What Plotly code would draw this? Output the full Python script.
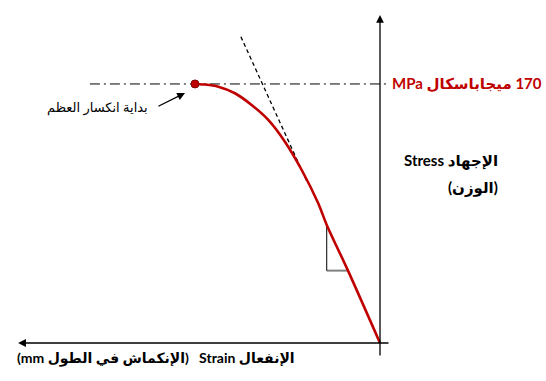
import plotly.graph_objects as go

# ---- data (strain in arbitrary mm units, stress in MPa) ----
CURVE_STRAIN = [0, 0.865, 1.44, 1.67, 2.12, 2.57, 3.02, 3.47, 3.92, 4.37, 4.73, 5.0]
CURVE_STRESS = [0, 47.5, 77.5, 91.7, 113.7, 132.1, 146.4, 156.2, 163.9, 168.2, 169.6, 170]
PEAK_STRAIN = [5.0]
PEAK_STRESS = [170]
TANGENT_STRAIN = [3.76, 1.97]
TANGENT_STRESS = [201, 105.7]
PROP_LIMIT_STRAIN = [7.84, -0.22]
PROP_LIMIT_STRESS = [170, 170]
TRI_V_STRAIN = [1.44, 1.44]
TRI_V_STRESS = [77.5, 47.5]
TRI_H_STRAIN = [1.44, 0.865]
TRI_H_STRESS = [47.5, 47.5]
AXIS_Y_STRESS = [-9.2, 215.3]   # vertical axis extent (tail, head)
AXIS_X_STRAIN = [-0.27, 9.78]   # horizontal axis extent (tail, head)
CALLOUT_TAIL = [6.03, 154.9]
CALLOUT_HEAD = [5.27, 164.1]

LABEL_LIMIT = "\u202b170 ميجاباسكال MPa\u202c"
LABEL_STRESS_1 = "\u202bالإجهاد Stress\u202c"
LABEL_STRESS_2 = "\u202b(الوزن)\u202c"
LABEL_STRAIN = "\u202bالإنفعال Strain\u00a0\u00a0 (الإنكماش في الطول mm)\u202c"
LABEL_CALLOUT = "بداية انكسار العظم"

RED = "#C00000"
FONT = "Lato, 'DejaVu Sans', sans-serif"

fig = go.Figure()

fig.add_trace(go.Scatter(x=TRI_H_STRAIN, y=TRI_H_STRESS, mode="lines",
                         line=dict(color="#808080", width=2), hoverinfo="skip"))
fig.add_trace(go.Scatter(x=TRI_V_STRAIN, y=TRI_V_STRESS, mode="lines",
                         line=dict(color="black", width=1), hoverinfo="skip"))
fig.add_trace(go.Scatter(x=PROP_LIMIT_STRAIN, y=PROP_LIMIT_STRESS, mode="lines",
                         line=dict(color="black", width=1, dash="10px,4px,2px,4px"),
                         hoverinfo="skip"))
fig.add_trace(go.Scatter(x=TANGENT_STRAIN, y=TANGENT_STRESS, mode="lines",
                         line=dict(color="black", width=1.3, dash="4px,3px"),
                         hoverinfo="skip"))
fig.add_trace(go.Scatter(x=CURVE_STRAIN, y=CURVE_STRESS, mode="lines",
                         line=dict(color=RED, width=2.6, shape="spline", smoothing=0.8),
                         hoverinfo="skip"))
fig.add_trace(go.Scatter(x=PEAK_STRAIN, y=PEAK_STRESS, mode="markers",
                         marker=dict(color=RED, size=8, line=dict(color="#7a0000", width=1)),
                         hoverinfo="skip"))

arrow_common = dict(showarrow=True, text="", axref="x", ayref="y", xref="x", yref="y",
                    arrowcolor="black", arrowhead=2, arrowsize=1.2, arrowwidth=1.3)
fig.add_annotation(x=0, y=AXIS_Y_STRESS[1], ax=0, ay=AXIS_Y_STRESS[0], **arrow_common)
fig.add_annotation(x=AXIS_X_STRAIN[1], y=0, ax=AXIS_X_STRAIN[0], ay=0, **arrow_common)
fig.add_annotation(x=CALLOUT_HEAD[0], y=CALLOUT_HEAD[1], ax=CALLOUT_TAIL[0], ay=CALLOUT_TAIL[1],
                   **arrow_common)

def label(text, x, y, xanchor, size, color="black", bold=True):
    fig.add_annotation(text=(f"<b>{text}</b>" if bold else text), xref="paper", yref="paper",
                       x=x, y=y, xanchor=xanchor, yanchor="middle", showarrow=False,
                       font=dict(family=FONT, size=size, color=color))

label(LABEL_LIMIT, 390 / 546, 1 - 83 / 381, "left", 15, RED)
label(LABEL_STRESS_1, 500 / 546, 1 - 160 / 381, "right", 15)
label(LABEL_STRESS_2, 500 / 546, 1 - 188 / 381, "right", 15)
label(LABEL_STRAIN, 15 / 546, 1 - 358 / 381, "left", 14)
label(LABEL_CALLOUT, 150 / 546, 1 - 108 / 381, "right", 13, bold=False)

fig.update_layout(
    width=546, height=381, margin=dict(l=0, r=0, t=0, b=0),
    paper_bgcolor="white", plot_bgcolor="white", showlegend=False,
    xaxis=dict(range=[10.27, -4.486], visible=False, fixedrange=True),
    yaxis=dict(range=[-24.94, 225.1], visible=False, fixedrange=True),
)

fig.write_html("out.html", config={"displayModeBar": False},
               post_script="document.body.style.margin='0';document.body.style.overflow='hidden';")
